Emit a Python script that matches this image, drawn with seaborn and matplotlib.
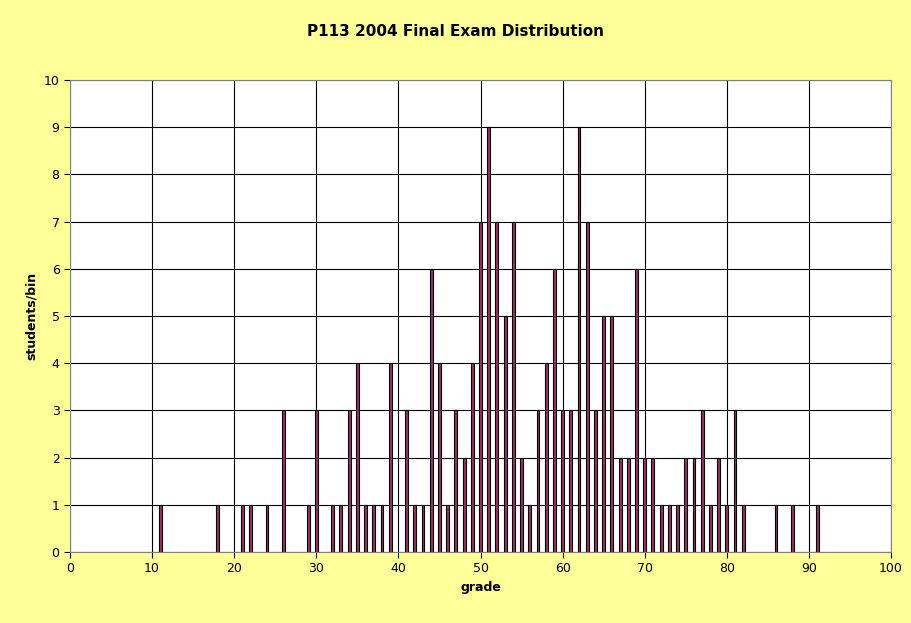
import matplotlib
matplotlib.use("Agg")
import matplotlib.pyplot as plt
import seaborn as sns

grades = [11, 18, 21, 22, 24, 26, 29, 30, 32, 33, 34, 35, 36, 37, 38, 39,
          41, 42, 43, 44, 45, 46, 47, 48, 49, 50, 51, 52, 53, 54, 55, 56,
          57, 58, 59, 60, 61, 62, 63, 64, 65, 66, 67, 68, 69, 70, 71, 72,
          73, 74, 75, 76, 77, 78, 79, 80, 81, 82, 86, 88, 91]
students = [1, 1, 1, 1, 1, 3, 1, 3, 1, 1, 3, 4, 1, 1, 1, 4,
            3, 1, 1, 6, 4, 1, 3, 2, 4, 7, 9, 7, 5, 7, 2, 1,
            3, 4, 6, 3, 3, 9, 7, 3, 5, 5, 2, 2, 6, 2, 2, 1,
            1, 1, 2, 2, 3, 1, 2, 1, 3, 1, 1, 1, 1]

fig = plt.figure(figsize=(9.11, 6.23), dpi=100, facecolor="#FFFF99")
ax = fig.add_axes([70 / 911, 1 - 552 / 623, 821 / 911, 472 / 623])
ax.set_facecolor("white")

sns.barplot(x=grades, y=students, native_scale=True, width=0.35,
            color="#993366", edgecolor="black", linewidth=0.8,
            saturation=1, zorder=3, ax=ax)

ax.set_xlim(0, 100)
ax.set_ylim(0, 10)
ax.set_xticks(range(0, 101, 10))
ax.set_yticks(range(0, 11))
ax.grid(True, color="black", linewidth=0.8, zorder=0)
ax.set_axisbelow(True)
for s in ax.spines.values():
    s.set_color("#808080")
ax.tick_params(labelsize=9, length=4)
ax.set_xlabel("grade", fontsize=9, fontweight="bold")
ax.set_ylabel("students/bin", fontsize=9, fontweight="bold")
fig.text(0.5, 1 - 31 / 623, "P113 2004 Final Exam Distribution",
         ha="center", va="center", fontsize=11, fontweight="bold")

fig.savefig("out.png", dpi=100, facecolor=fig.get_facecolor())
